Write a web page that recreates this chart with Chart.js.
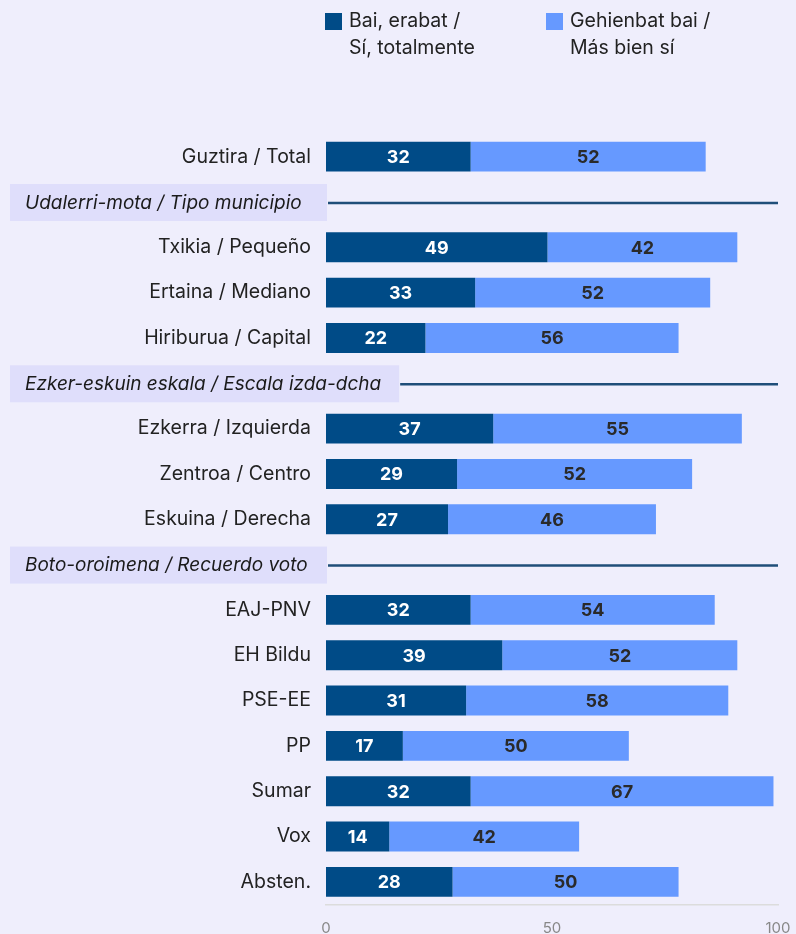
<!DOCTYPE html>
<html><head><meta charset="utf-8">
<script src="https://cdn.jsdelivr.net/npm/chart.js@4"></script>
<style>
html,body{margin:0;padding:0;background:#efeefc;overflow:hidden;}
canvas{display:block;}
</style></head>
<body><canvas id="c" width="796" height="934" style="width:796px;height:934px"></canvas>
<script>
const categories = ["Guztira / Total","Udalerri-mota / Tipo municipio","Txikia / Pequeño","Ertaina / Mediano","Hiriburua / Capital","Ezker-eskuin eskala / Escala izda-dcha","Ezkerra / Izquierda","Zentroa / Centro","Eskuina / Derecha","Boto-oroimena / Recuerdo voto","EAJ-PNV","EH Bildu","PSE-EE","PP","Sumar","Vox","Absten."];
const isHeader = [false,true,false,false,false,true,false,false,false,true,false,false,false,false,false,false,false];
const totalmente = [32,null,49,33,22,null,37,29,27,null,32,39,31,17,32,14,28];
const masBien = [52,null,42,52,56,null,55,52,46,null,54,52,58,50,67,42,50];
const seriesNames = [["Bai, erabat /","Sí, totalmente"],["Gehienbat bai /","Más bien sí"]];
const xTicks = [0,50,100];

const FONT = "Inter, 'Noto Sans', sans-serif";
const DARK = "#004b87", LIGHT = "#6699ff";

const sectionPlugin = {
  id:'sections',
  afterDraw(chart){
    const ctx = chart.ctx, y = chart.scales.y, area = chart.chartArea;
    ctx.save();
    categories.forEach((c,i)=>{
      if(!isHeader[i]) return;
      const py = y.getPixelForValue(i);
      ctx.font = "italic 19px " + FONT;
      const tw = ctx.measureText(c).width;
      const boxR = Math.max(area.left + 1, 25 + tw + 18);
      ctx.fillStyle = "#dfdefb";
      ctx.fillRect(10, py-18, boxR-10, 37);
      ctx.strokeStyle = "#1f4e79";
      ctx.lineWidth = 2.5;
      ctx.beginPath(); ctx.moveTo(boxR + 1, py+1); ctx.lineTo(area.right, py+1); ctx.stroke();
      ctx.fillStyle = "#1a1a1a";
      ctx.textAlign = "left"; ctx.textBaseline = "middle";
      ctx.fillText(c, 25, py+1);
    });
    chart.data.datasets.forEach((ds,di)=>{
      const meta = chart.getDatasetMeta(di);
      meta.data.forEach((bar,i)=>{
        const v = ds.data[i];
        if(v==null) return;
        const cx = (bar.x + bar.base)/2;
        ctx.fillStyle = di===0 ? "#ffffff" : "#2a2a2a";
        ctx.font = "bold 18px " + FONT;
        ctx.textAlign = "center"; ctx.textBaseline = "middle";
        ctx.fillText(String(v), cx, bar.y+1);
      });
    });
    const lx = [325, 546];
    seriesNames.forEach((lines,k)=>{
      ctx.fillStyle = k===0 ? DARK : LIGHT;
      ctx.fillRect(lx[k], 13, 17, 17);
      ctx.fillStyle = "#222";
      ctx.font = "19.5px " + FONT;
      ctx.textAlign = "left"; ctx.textBaseline = "middle";
      lines.forEach((t,j)=> ctx.fillText(t, lx[k]+24, 21 + j*27));
    });
    ctx.restore();
  }
};

new Chart(document.getElementById('c'), {
  type:'bar',
  data:{
    labels: categories.map((c,i)=> isHeader[i] ? "" : c),
    datasets:[
      {label:seriesNames[0].join(" "), data:totalmente, backgroundColor:DARK, barPercentage:0.66, categoryPercentage:1},
      {label:seriesNames[1].join(" "), data:masBien, backgroundColor:LIGHT, barPercentage:0.66, categoryPercentage:1}
    ]
  },
  options:{
    indexAxis:'y',
    responsive:false, animation:false,
    layout:{padding:{top:134,right:18,left:0,bottom:0}},
    plugins:{legend:{display:false}, tooltip:{enabled:false}},
    scales:{
      x:{stacked:true, min:0, max:100,
         afterBuildTicks(s){ s.ticks = xTicks.map(v=>({value:v})); },
         afterFit(s){ s.paddingLeft = 0; s.paddingRight = 0; s.height = 29.5; },
         grid:{display:false},
         border:{display:true, color:"#dcdcdc", width:1.5},
         ticks:{color:"#888", font:{family:FONT, size:15}, padding:7, maxRotation:0}},
      y:{stacked:true,
         grid:{display:false}, border:{display:false},
         ticks:{color:"#222", font:{family:FONT, size:19.5}, padding:7, autoSkip:false},
         afterFit(s){ s.width = 326; }}
    }
  },
  plugins:[sectionPlugin]
});
</script></body></html>
